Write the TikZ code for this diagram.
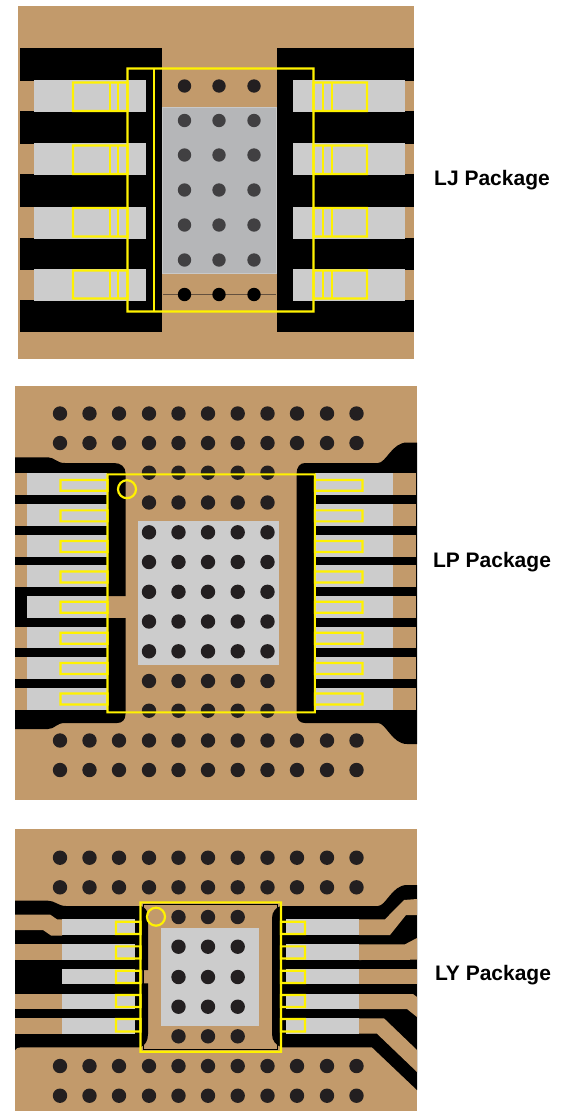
\documentclass[tikz,border=0pt]{standalone}
\usepackage{fontspec}
\setmainfont{Liberation Sans}
\definecolor{copper}{HTML}{C29A6B}
\definecolor{padgray}{HTML}{CCCCCC}
\definecolor{thermal}{HTML}{B5B6B8}
\definecolor{thermaledge}{HTML}{C9C9C9}
\definecolor{silk}{RGB}{255,242,0}
\definecolor{via}{HTML}{231F20}
\definecolor{viagray}{HTML}{414042}
\tikzset{
  cu/.style={fill=copper,draw=none},
  blk/.style={fill=black,draw=none},
  padfill/.style={fill=padgray,draw=none},
  ylw/.style={color=silk,line width=2.2pt,fill=none},
  yframe/.style={fill=silk,draw=none,even odd rule},
  lab/.style={font=\bfseries\fontsize{21}{25}\selectfont,inner sep=0pt,anchor=center},
}
% outline rectangle of half-width \hw, drawn as a filled frame
\newcommand{\hw}{1.05}
\newcommand{\yrect}[4]{\fill[yframe] (#1-\hw,#2-\hw) rectangle (#3+\hw,#4+\hw) (#1+\hw,#2+\hw) rectangle (#3-\hw,#4-\hw);}
\newcommand{\yvert}[3]{\fill[yframe] (#1-\hw,#2) rectangle (#1+\hw,#3);}
\begin{document}
\begin{tikzpicture}[x=1pt,y=-1pt]
\useasboundingbox (0,0) rectangle (568,1111);
\fill[white] (0,0) rectangle (568,1111);

%%%%%%%%%% LJ
\fill[cu] (18,6) rectangle (414,359);
\fill[blk] (20,48) rectangle (162,332);
\fill[blk] (277,48) rectangle (414,332);
\foreach \a/\b in {80/112,143/175,206.5/238.5,269/301}{
  \fill[cu] (18,\a+.7) rectangle (34,\b-1);
  \fill[cu] (405,\a+.7) rectangle (414,\b-1);
  \fill[padfill] (34,\a) rectangle (146,\b);
  \fill[padfill] (293,\a) rectangle (405,\b);
}
\path[fill=thermal,draw=thermaledge,line width=1.4pt] (162.7,107.7) rectangle (276.7,273.6);
\path[draw=via!60!copper,line width=.5pt] (163,294.5) -- (276,294.5);
\foreach \x in {184.5,219,254}{
  \fill[via] (\x,86) circle[radius=6.7pt];
  \foreach \y in {120.5,155,190,225,260}{\fill[viagray] (\x,\y) circle[radius=6.7pt];}
  \fill[black] (\x,294.5) circle[radius=6.7pt];
}
\yrect{127.5}{68.5}{313.5}{311.5}
\yvert{154}{68.5}{311.5}
\foreach \a/\b in {82.5/111,145.5/174,208/236.5,270.5/298.5}{
  \yrect{73}{\a}{127.5}{\b}
  \yvert{110}{\a}{\b}
  \yvert{118}{\a}{\b}
  \yrect{313.5}{\a}{367}{\b}
  \yvert{323}{\a}{\b}
  \yvert{332}{\a}{\b}
}

%%%%%%%%%% LP
\fill[cu] (15,386) rectangle (417,800);
% black left
\fill[blk] (15,457.3) -- (48,457.3) .. controls (55,457.5) and (56,463) .. (65,463)
  -- (114,463) .. controls (121,463) and (125.5,467) .. (125.5,473)
  -- (125.5,596) -- (108,596) -- (108,618) -- (125.5,618) -- (125.5,714)
  .. controls (125.5,720) and (122,723) .. (117,723) -- (65,723)
  .. controls (56,723) and (55,729) .. (48,729) -- (15,729) -- cycle;
% black right
\fill[blk] (296.7,473) .. controls (296.7,467) and (300,463) .. (305,463) -- (378,463)
  .. controls (386,463) and (392,442.5) .. (407,442.5) -- (417,442.5)
  -- (417,744) -- (407,744)
  .. controls (392,744) and (386,723) .. (378,723) -- (305,723)
  .. controls (300,723) and (296.7,720) .. (296.7,714) -- cycle;
\foreach \a/\b/\t in {472.7/495/1,504/525.7/1,535/556.7/1,565/587/1,596/617.7/0,626.7/648.3/1,657.3/679/1,688.3/710/1}{
  \ifnum\t=1 \fill[cu] (15,\a) rectangle (27,\b); \fi
  \fill[padfill] (27,\a) rectangle (107,\b);
  \fill[padfill] (315,\a) rectangle (393,\b);
  \fill[cu] (393,\a) rectangle (416,\b);
}
\fill[padfill] (138,521) rectangle (279,665);
\foreach \y in {413.5,443,740.5,770}{
  \foreach \x in {60,89.5,119,149,178.5,208,237.7,267.5,297,327,356.5}{\fill[via] (\x,\y) circle[radius=7.2pt];}
}
\foreach \y in {472.7,502.5,532.3,562,591.8,621.5,651.3,681,710.7}{
  \foreach \x in {149,178.5,208,237.7,267.5}{\fill[via] (\x,\y) circle[radius=7.2pt];}
}
\yrect{107.5}{474.3}{314.8}{712.3}
\foreach \a/\b in {480/490.7,510.3/521.3,541/552,571.5/582.5,601.7/612.7,632.7/643.7,663/674,693.5/704.5}{
  \yrect{60.5}{\a}{107.5}{\b}
  \yrect{314.8}{\a}{362.5}{\b}
}
\draw[ylw] (127,489.2) circle[radius=9pt];

%%%%%%%%%% LY
\fill[cu] (15,829) rectangle (417,1111);
% black left
\fill[blk] (141,906) -- (66,906) .. controls (58,906) and (55,900.7) .. (48,900.7) -- (15,900.7)
  -- (15,1050) .. controls (16,1048) and (18,1047.3) .. (21,1047.3) -- (141,1047.3) -- cycle;
% black right
\fill[blk] (281,906) -- (378,906) .. controls (386,906) and (392,885) .. (407,885) -- (417,885)
  -- (417,1090) -- (372,1047.3) -- (281,1047.3) -- cycle;
% edge outline
\path[draw=black,line width=.5pt] (143,904.4) rectangle (277.5,1049.4);
% side strips
\fill[blk] (141,906) .. controls (145,907) and (148,911) .. (148,916) -- (148,970) -- (142.5,970)
  -- (142.5,983.3) -- (148,983.3) -- (148,1034) .. controls (148,1041) and (145,1045) .. (141,1047) -- cycle;
\fill[blk] (281,906) .. controls (276,907) and (272,912) .. (272,918) -- (272,1034)
  .. controls (272,1041) and (276,1045) .. (281,1047) -- cycle;
% left copper tabs
\fill[cu] (15,914.5) -- (50,914.5) -- (57,919.3) -- (62,919.3) -- (62,935.5) -- (51,935.5) -- (43,930) -- (15,930) -- cycle;
\fill[cu] (15,944.3) rectangle (62,960);
\fill[cu] (15,994) rectangle (62,1009);
\fill[cu] (15,1018.3) rectangle (62,1033.7);
% right copper tabs
\fill[cu] (359,919.3) -- (385,919.3) -- (404,900) -- (417,899) -- (417,915) -- (406,915) -- (390,935) -- (359,935) -- cycle;
\fill[cu] (359,944.3) -- (405,944.3) -- (417,938) -- (417,959.7) -- (359,960) -- cycle;
\fill[cu] (359,969) rectangle (417,984.3);
\fill[cu] (359,994) -- (413,994) -- (417,997) -- (417,1017) -- (407,1009) -- (359,1009) -- cycle;
\fill[cu] (359,1018.3) -- (384,1018.3) -- (417,1050) -- (417,1072) -- (377,1033.7) -- (359,1033.7) -- cycle;
\foreach \a/\b in {919.3/935,944.3/960,969/984.3,994/1009,1018.3/1033.7}{
  \fill[padfill] (61.5,\a) rectangle (135,\b);
  \fill[padfill] (285.7,\a) rectangle (359,\b);
}
\fill[padfill] (161,928.3) rectangle (258.7,1026);
\foreach \y in {857.7,887.3,1066,1095.7}{
  \foreach \x in {60,89.5,119,149,178.5,208,237.7,267.5,297,327,356.5}{\fill[via] (\x,\y) circle[radius=7.2pt];}
}
\foreach \y in {917,946.7,977,1006.7,1036.3}{
  \foreach \x in {178.5,208,237.7}{\fill[via] (\x,\y) circle[radius=7.2pt];}
}
\yrect{140.5}{902.3}{281}{1051.7}
\foreach \a/\b in {921.7/934,946.3/958.5,970.7/983,995/1007,1019/1031.5}{
  \yrect{116}{\a}{140.5}{\b}
  \yrect{281}{\a}{305}{\b}
}
\draw[ylw] (156,916.7) circle[radius=9pt];

%%%%%%%%%% labels
\node[lab] (lj) at (492,180) {LJ Package};
\node[lab] (lp) at (492,562) {LP Package};
\node[lab] (ly) at (493,975) {LY Package};
\end{tikzpicture}
\end{document}
